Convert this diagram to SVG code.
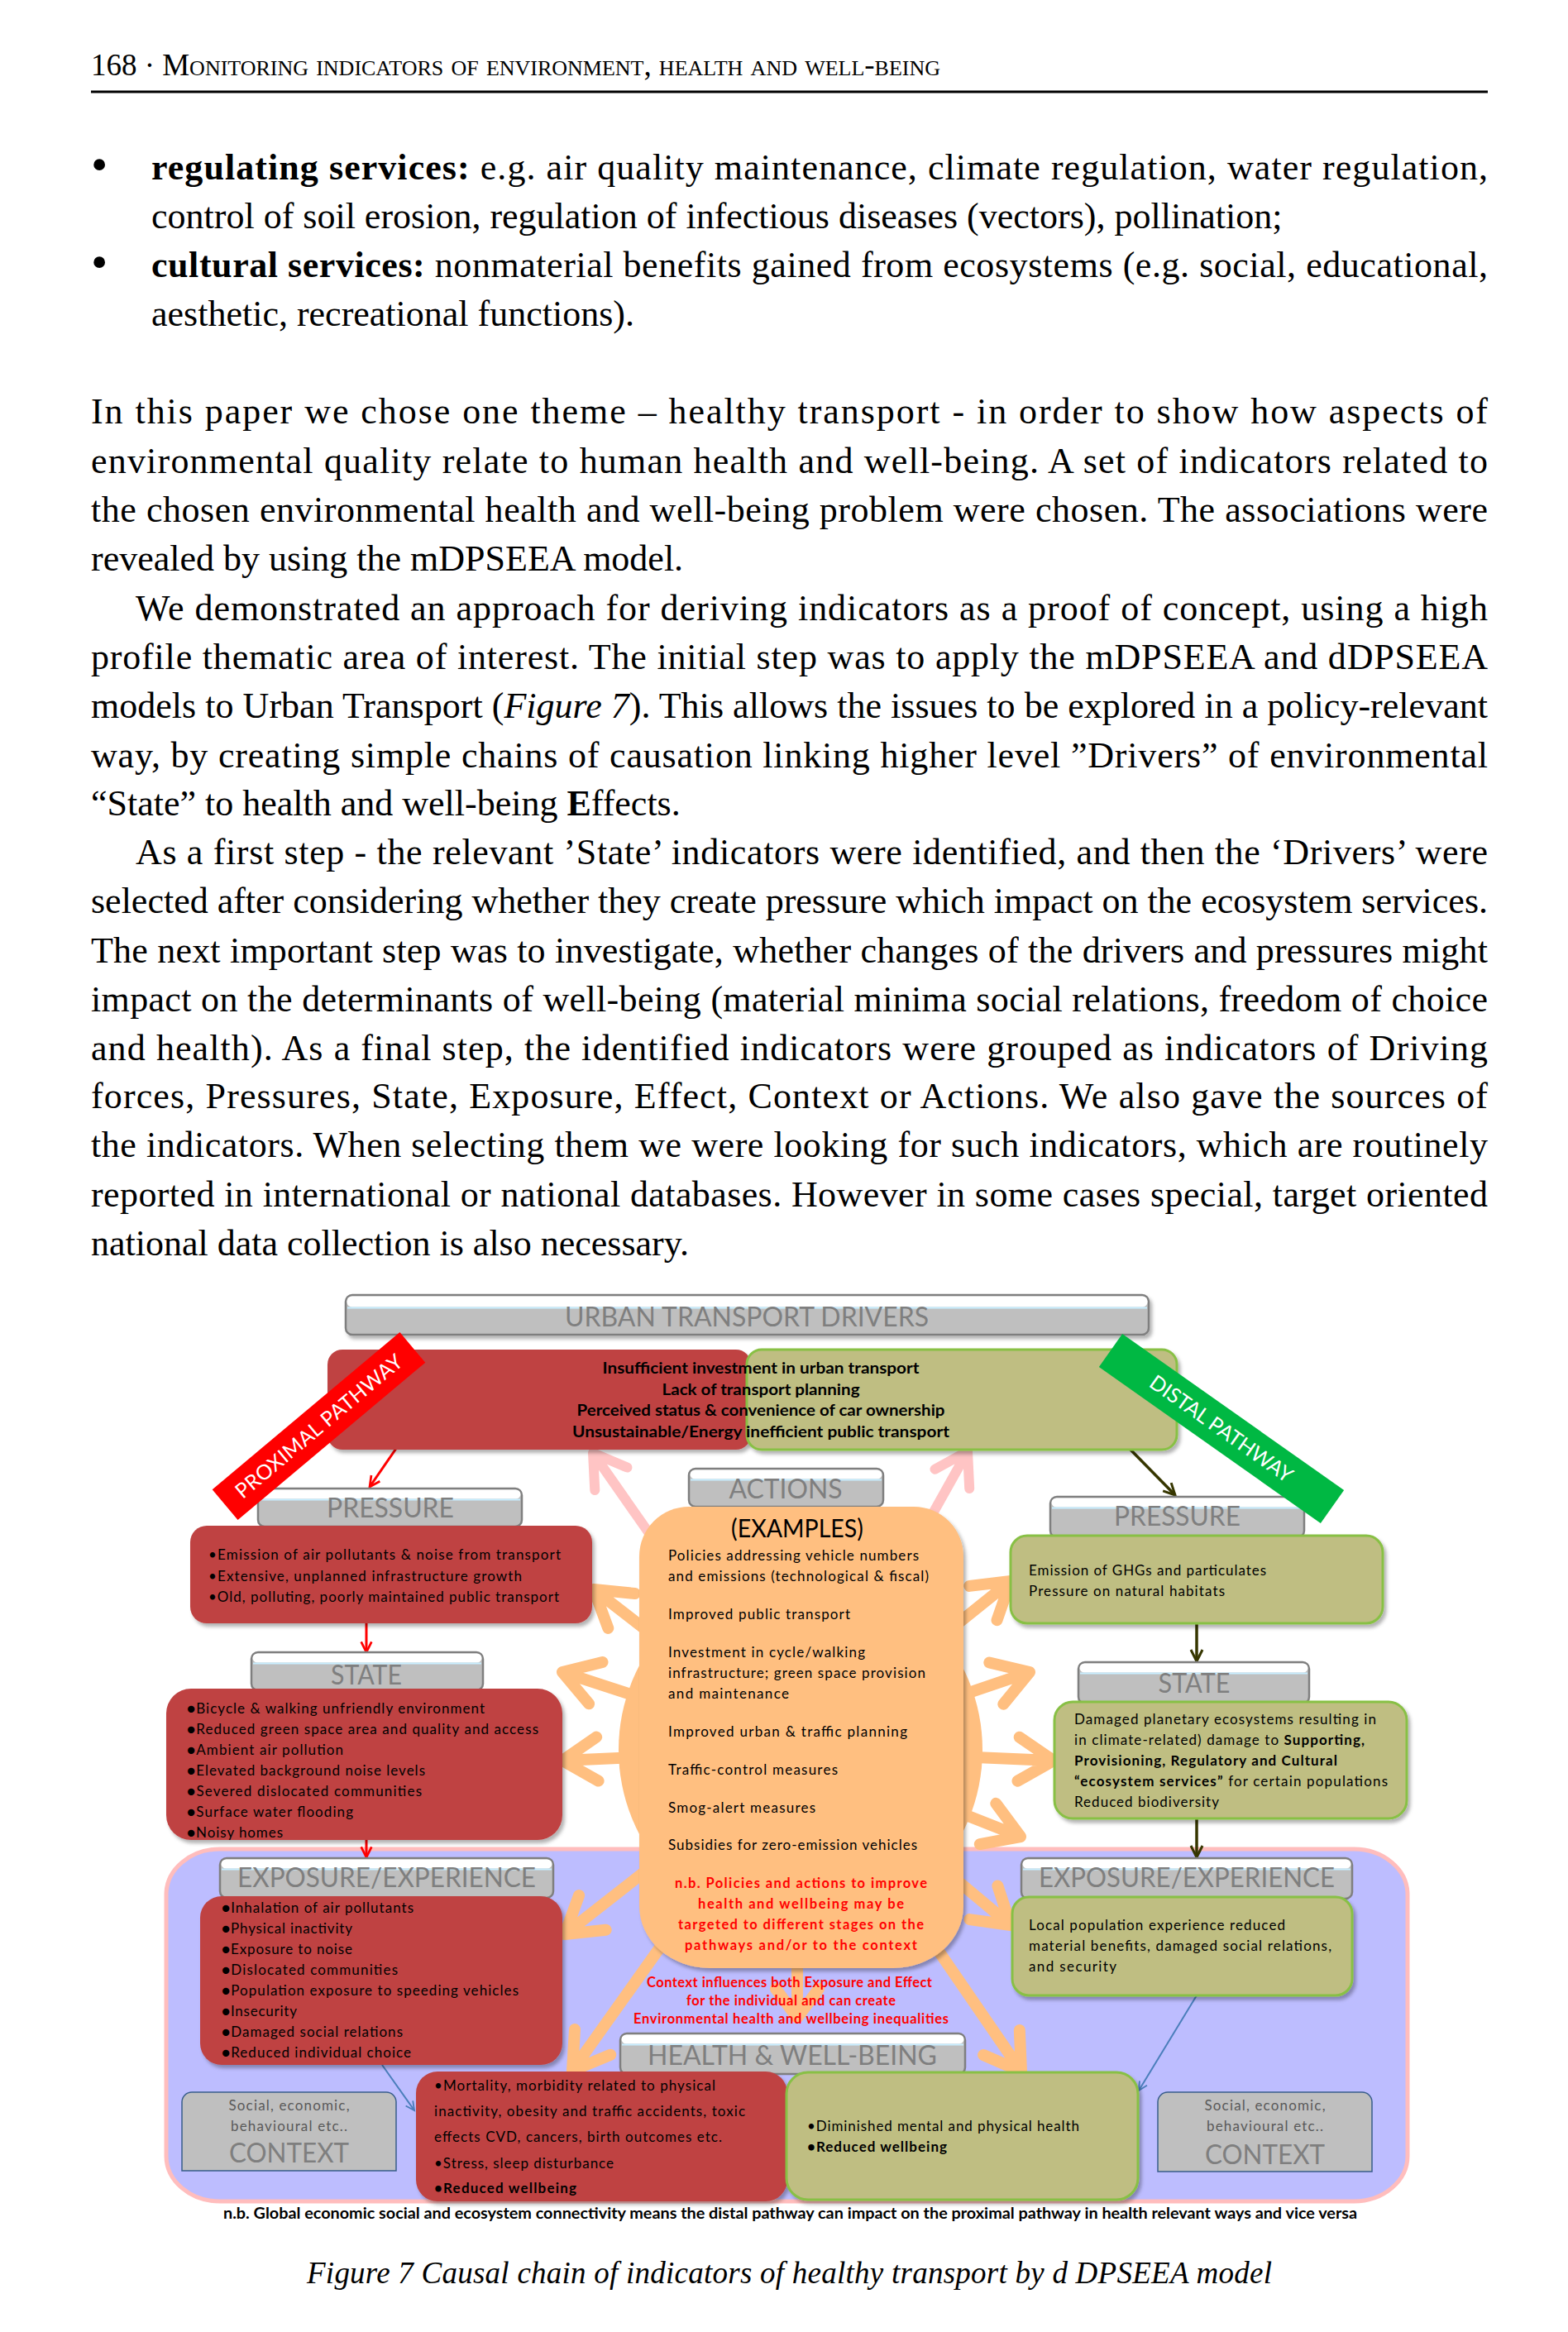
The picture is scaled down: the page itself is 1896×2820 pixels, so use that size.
<svg xmlns="http://www.w3.org/2000/svg" width="1896" height="2820" viewBox="0 0 1896 2820">
<defs>
<style>
.serif{font-family:'Liberation Serif','Times New Roman',serif;fill:#000;font-size:44px}
.tabbg{fill:#BFBFBF;stroke:#7F7F7F;stroke-width:2.5}
.tabhi{fill:#FFFFFF}
.tabln{stroke:#C8EEFF;stroke-width:2}
.tabtx{font-family:Lato,'Liberation Sans',sans-serif;font-size:33px;fill:#7F7F7F;text-anchor:middle}
.redbox{fill:#BF4343}
.grnbox{fill:#BFBE82;stroke:#88C045;stroke-width:3}
.tx{font-family:Lato,'Liberation Sans',sans-serif;font-size:17px;fill:#000}
.drv{font-family:Lato,'Liberation Sans',sans-serif;font-size:18.5px;font-weight:bold;fill:#000;text-anchor:middle}
.bold{font-weight:bold}
.mid{text-anchor:middle}
.rtx{font-family:Lato,'Liberation Sans',sans-serif;font-size:16.5px;font-weight:bold;fill:#FF0000;text-anchor:middle}
.orange{fill:none;stroke:#FFBF80;stroke-width:14;stroke-linecap:round;stroke-linejoin:round}
.pink{fill:none;stroke:#FFC4C4;stroke-width:12;stroke-linecap:round;stroke-linejoin:round}
.ctx{fill:#BFBFBF;stroke:#385D8A;stroke-width:1.5}
.ctxs{font-family:Lato,'Liberation Sans',sans-serif;font-size:17px;fill:#595959;text-anchor:middle}
.ctxb{font-family:Lato,'Liberation Sans',sans-serif;font-size:33px;fill:#7F7F7F;text-anchor:middle}
.band{font-family:Lato,'Liberation Sans',sans-serif;font-size:25px;fill:#FFFFFF;text-anchor:middle}
</style>
<filter id="sh" x="-10%" y="-10%" width="130%" height="130%"><feDropShadow dx="3" dy="4" stdDeviation="2" flood-color="#000" flood-opacity="0.3"/></filter>
<marker id="ar" viewBox="0 0 20 20" refX="17" refY="10" markerWidth="18" markerHeight="18" markerUnits="userSpaceOnUse" orient="auto"><path d="M3,3 L17,10 L3,17" fill="none" stroke="#FF0000" stroke-width="3"/></marker>
<marker id="ad" viewBox="0 0 20 20" refX="17" refY="10" markerWidth="20" markerHeight="20" markerUnits="userSpaceOnUse" orient="auto"><path d="M3,3 L17,10 L3,17" fill="none" stroke="#363600" stroke-width="3"/></marker>
<marker id="ab" viewBox="0 0 20 20" refX="17" refY="10" markerWidth="15" markerHeight="15" markerUnits="userSpaceOnUse" orient="auto"><path d="M3,3 L17,10 L3,17" fill="none" stroke="#4A7EBB" stroke-width="2.5"/></marker>
</defs>
<rect width="1896" height="2820" fill="#FFFFFF"/>

<g id="page-text" class="serif">
<text x="110" y="91" style="font-size:37px;font-variant:small-caps" textLength="1027" lengthAdjust="spacing">168 · Monitoring indicators of environment, health and well-being</text>
<line x1="110" y1="111" x2="1799" y2="111" stroke="#000" stroke-width="3"/>
<text x="110" y="218" style="font-size:58px">•</text>
<text x="183" y="217" textLength="1616" lengthAdjust="spacing"><tspan font-weight="bold">regulating services:</tspan> e.g. air quality maintenance, climate regulation, water regulation,</text>
<text x="183" y="276">control of soil erosion, regulation of infectious diseases (vectors), pollination;</text>
<text x="110" y="336" style="font-size:58px">•</text>
<text x="183" y="335" textLength="1616" lengthAdjust="spacing"><tspan font-weight="bold">cultural services:</tspan> nonmaterial benefits gained from ecosystems (e.g. social, educational,</text>
<text x="183" y="394">aesthetic, recreational functions).</text>

<text x="110" y="512" textLength="1689" lengthAdjust="spacing">In this paper we chose one theme – healthy transport - in order to show how aspects of</text>
<text x="110" y="571.5" textLength="1689" lengthAdjust="spacing">environmental quality relate to human health and well-being.  A set of indicators related to</text>
<text x="110" y="631" textLength="1689" lengthAdjust="spacing">the chosen environmental health and well-being problem were chosen. The associations were</text>
<text x="110" y="690">revealed by using the mDPSEEA model.</text>
<text x="164" y="749.5" textLength="1635" lengthAdjust="spacing">We demonstrated an approach for deriving indicators as a proof of concept, using a high</text>
<text x="110" y="809" textLength="1689" lengthAdjust="spacing">profile thematic area of interest. The initial step was to apply the mDPSEEA  and dDPSEEA</text>
<text x="110" y="868" textLength="1689" lengthAdjust="spacing">models to Urban Transport (<tspan font-style="italic">Figure 7</tspan>). This allows the issues to be explored in a policy-relevant</text>
<text x="110" y="927.5" textLength="1689" lengthAdjust="spacing">way, by creating simple chains of causation linking higher level ”Drivers” of environmental</text>
<text x="110" y="985.5">“State” to health and well-being <tspan font-weight="bold">E</tspan>ffects.</text>
<text x="164" y="1044.5" textLength="1635" lengthAdjust="spacing">As a first step - the relevant ’State’ indicators were identified, and then the ‘Drivers’ were</text>
<text x="110" y="1104" textLength="1689" lengthAdjust="spacing">selected after considering whether they create pressure which impact on the ecosystem services.</text>
<text x="110" y="1163.5" textLength="1689" lengthAdjust="spacing">The next important step was to investigate, whether changes of the drivers and pressures might</text>
<text x="110" y="1222.5" textLength="1689" lengthAdjust="spacing">impact on the determinants of well-being (material minima social relations, freedom of choice</text>
<text x="110" y="1282" textLength="1689" lengthAdjust="spacing">and health). As a final step, the identified indicators were grouped as indicators of Driving</text>
<text x="110" y="1340" textLength="1689" lengthAdjust="spacing">forces, Pressures, State, Exposure, Effect, Context or Actions. We also gave the sources of</text>
<text x="110" y="1399" textLength="1689" lengthAdjust="spacing">the indicators. When selecting them we were looking for such indicators, which are routinely</text>
<text x="110" y="1458.5" textLength="1689" lengthAdjust="spacing">reported in international or national databases. However in some cases special, target oriented</text>
<text x="110" y="1518">national data collection is also necessary.</text>
</g>

<g id="container">
<rect x="201" y="2236" width="1501" height="426" rx="65" ry="55" fill="#BDBDFF" stroke="#FFBDBD" stroke-width="5"/>
</g>

<g id="connectors">
<path class="pink" d="M968,2116 L717,1757 M719.3,1802 L717,1757 L758.4,1774.6"/>
<path class="pink" d="M968,2116 L1170,1755 M1130.5,1776.7 L1170,1755 L1172.2,1800"/>
<path class="orange" d="M968,2116 L718,1922 M735.3,1968.9 L718,1922 L767.7,1927"/>
<path class="orange" d="M968,2116 L680,2022 M712.1,2060.3 L680,2022 L728.5,2010"/>
<path class="orange" d="M968,2116 L680,2129 M723.6,2153.6 L680,2129 L721.2,2100.6"/>
<path class="orange" d="M968,2116 L683,2339 M732.7,2333.7 L683,2339 L700.1,2292"/>
<path class="orange" d="M968,2116 L692,2504 M738.2,2484.8 L692,2504 L695,2454.1"/>
<path class="orange" d="M964,2116 L964,2440 M990,2405 L964,2440 L938,2405"/>
<path class="orange" d="M968,2116 L1235,2505 M1232.8,2455 L1235,2505 L1189.1,2485"/>
<path class="orange" d="M968,2116 L1222,2328 M1206.4,2280.5 L1222,2328 L1172.4,2321.1"/>
<path class="orange" d="M968,2116 L1234,2221 M1204.3,2180.8 L1234,2221 L1184.8,2230.1"/>
<path class="orange" d="M968,2116 L1274,2129 M1232.7,2100.7 L1274,2129 L1230.5,2153.7"/>
<path class="orange" d="M968,2116 L1245,2022 M1196.3,2010.5 L1245,2022 L1213.3,2060.7"/>
<path class="orange" d="M968,2116 L1222,1912 M1172.3,1917.9 L1222,1912 L1205.5,1959.2"/>
<line x1="487" y1="1740" x2="447" y2="1798" stroke="#FF0000" stroke-width="3" marker-end="url(#ar)"/>
<line x1="443" y1="1963" x2="443" y2="1998" stroke="#FF0000" stroke-width="3" marker-end="url(#ar)"/>
<line x1="443" y1="2225" x2="443" y2="2246" stroke="#FF0000" stroke-width="3" marker-end="url(#ar)"/>
<line x1="1366" y1="1752" x2="1421" y2="1808" stroke="#363600" stroke-width="3.5" marker-end="url(#ad)"/>
<line x1="1447" y1="1963" x2="1447" y2="2009" stroke="#363600" stroke-width="3.5" marker-end="url(#ad)"/>
<line x1="1447" y1="2199" x2="1447" y2="2246" stroke="#363600" stroke-width="3.5" marker-end="url(#ad)"/>
<line x1="462" y1="2497" x2="501" y2="2552" stroke="#4A7EBB" stroke-width="2" marker-end="url(#ab)"/>
<line x1="1447" y1="2413" x2="1377" y2="2528" stroke="#4A7EBB" stroke-width="2" marker-end="url(#ab)"/>
</g>

<g id="drivers">
<rect class="tabbg" x="418" y="1566" width="971" height="48" rx="8" filter="url(#sh)"/>
<rect class="tabhi" x="419.5" y="1567.5" width="968" height="13" rx="6"/>
<line class="tabln" x1="420" y1="1581.5" x2="1387" y2="1581.5"/>
<text class="tabtx" x="903" y="1604" textLength="440" lengthAdjust="spacingAndGlyphs">URBAN TRANSPORT DRIVERS</text>
<rect class="redbox" x="396" y="1632" width="512" height="121" rx="18" filter="url(#sh)"/>
<rect class="grnbox" x="903" y="1632" width="520" height="121" rx="18" filter="url(#sh)"/>
<text class="drv" x="920" y="1661" textLength="383" lengthAdjust="spacingAndGlyphs">Insufficient investment in urban transport</text>
<text class="drv" x="920" y="1687" textLength="239" lengthAdjust="spacingAndGlyphs">Lack of transport planning</text>
<text class="drv" x="920" y="1712" textLength="445" lengthAdjust="spacingAndGlyphs">Perceived status &amp; convenience of car ownership</text>
<text class="drv" x="920" y="1738" textLength="456" lengthAdjust="spacingAndGlyphs">Unsustainable/Energy inefficient  public transport</text>
</g>

<g id="actions">
<circle cx="968" cy="2116" r="220" fill="#FFBF80"/>
<rect class="tabbg" x="833" y="1776" width="235" height="46" rx="8"/>
<rect class="tabhi" x="834.5" y="1777.5" width="232" height="11" rx="6"/>
<line class="tabln" x1="835" y1="1789.5" x2="1066" y2="1789.5"/>
<text class="tabtx" x="950" y="1812" textLength="137" lengthAdjust="spacingAndGlyphs">ACTIONS</text>
<path d="M833,1822 H1105 A60,60 0 0 1 1165,1882 V2305 A85,75 0 0 1 1080,2380 H858 A85,75 0 0 1 773,2305 V1882 A60,60 0 0 1 833,1822 Z" fill="#FFBF80" filter="url(#sh)"/>
<text class="tx mid" x="964" y="1859" style="font-size:30px" textLength="160" lengthAdjust="spacingAndGlyphs">(EXAMPLES)</text>
<text class="tx" x="808" y="1887" textLength="303">Policies addressing vehicle numbers</text>
<text class="tx" x="808" y="1912" textLength="315">and emissions (technological &amp; fiscal)</text>
<text class="tx" x="808" y="1958" textLength="220">Improved public transport</text>
<text class="tx" x="808" y="2004" textLength="238">Investment in cycle/walking</text>
<text class="tx" x="808" y="2029" textLength="311">infrastructure; green  space provision</text>
<text class="tx" x="808" y="2054" textLength="146">and maintenance</text>
<text class="tx" x="808" y="2100" textLength="289">Improved urban &amp; traffic planning</text>
<text class="tx" x="808" y="2146" textLength="205">Traffic-control measures</text>
<text class="tx" x="808" y="2192" textLength="178">Smog-alert measures</text>
<text class="tx" x="808" y="2237" textLength="301">Subsidies for zero-emission  vehicles</text>
<text class="rtx" x="968.5" y="2283" textLength="305">n.b. Policies and actions to improve</text>
<text class="rtx" x="968.5" y="2308" textLength="249">health and wellbeing may be</text>
<text class="rtx" x="968.5" y="2333" textLength="297">targeted to different stages on the</text>
<text class="rtx" x="968.5" y="2358" textLength="281">pathways and/or to  the context</text>
</g>

<g id="context-note">
<text class="rtx" x="954.5" y="2403" textLength="345">Context influences both Exposure and Effect</text>
<text class="rtx" x="956.5" y="2425" textLength="253">for the individual and can create</text>
<text class="rtx" x="956.5" y="2447" textLength="381">Environmental health and  wellbeing inequalities</text>
</g>

<g id="pressure-left">
<rect class="tabbg" x="312" y="1800" width="319" height="46" rx="8"/>
<rect class="tabhi" x="313.5" y="1801.5" width="316" height="11" rx="6"/>
<line class="tabln" x1="314" y1="1813.5" x2="629" y2="1813.5"/>
<text class="tabtx" x="472" y="1835" textLength="154" lengthAdjust="spacingAndGlyphs">PRESSURE</text>
<rect class="redbox" x="230" y="1845" width="486" height="118" rx="20" filter="url(#sh)"/>
<text class="tx" x="252" y="1886" textLength="426">•Emission of  air  pollutants &amp; noise from transport</text>
<text class="tx" x="252" y="1912" textLength="379">•Extensive,  unplanned infrastructure growth</text>
<text class="tx" x="252" y="1937" textLength="424">•Old, polluting, poorly maintained public transport</text>
</g>

<g id="state-left">
<rect class="tabbg" x="304" y="1998" width="280" height="46" rx="8"/>
<rect class="tabhi" x="305.5" y="1999.5" width="277" height="11" rx="6"/>
<line class="tabln" x1="306" y1="2011.5" x2="582" y2="2011.5"/>
<text class="tabtx" x="443" y="2037" textLength="86" lengthAdjust="spacingAndGlyphs">STATE</text>
<rect class="redbox" x="201" y="2042" width="479" height="183" rx="30" filter="url(#sh)"/>
<text class="tx" x="226" y="2072" textLength="360">●Bicycle &amp; walking unfriendly environment</text>
<text class="tx" x="226" y="2097" textLength="425">●Reduced green  space area and quality and access</text>
<text class="tx" x="226" y="2122" textLength="189">●Ambient air pollution</text>
<text class="tx" x="226" y="2147" textLength="288">●Elevated  background noise levels</text>
<text class="tx" x="226" y="2172" textLength="284">●Severed  dislocated communities</text>
<text class="tx" x="226" y="2197" textLength="201">●Surface water flooding</text>
<text class="tx" x="226" y="2222" textLength="116">●Noisy homes</text>
</g>

<g id="exposure-left">
<rect class="tabbg" x="266" y="2247" width="403" height="48" rx="8"/>
<rect class="tabhi" x="267.5" y="2248.5" width="400" height="11" rx="6"/>
<line class="tabln" x1="268" y1="2260.5" x2="667" y2="2260.5"/>
<text class="tabtx" x="467.5" y="2282" textLength="361" lengthAdjust="spacingAndGlyphs">EXPOSURE/EXPERIENCE</text>
<rect class="redbox" x="242" y="2293" width="438" height="204" rx="26" filter="url(#sh)"/>
<text class="tx" x="268" y="2313" textLength="232">●Inhalation of air pollutants</text>
<text class="tx" x="268" y="2338" textLength="158">●Physical inactivity</text>
<text class="tx" x="268" y="2363" textLength="158">●Exposure to noise</text>
<text class="tx" x="268" y="2388" textLength="213">●Dislocated communities</text>
<text class="tx" x="268" y="2413" textLength="359">●Population exposure to speeding vehicles</text>
<text class="tx" x="268" y="2438" textLength="91">●Insecurity</text>
<text class="tx" x="268" y="2463" textLength="219">●Damaged social relations</text>
<text class="tx" x="268" y="2488" textLength="229">●Reduced individual choice</text>
</g>

<g id="context-left">
<path class="ctx" d="M220,2542 A12,12 0 0 1 232,2530 H467 A12,12 0 0 1 479,2542 V2625 H220 Z"/>
<text class="ctxs" x="349.5" y="2552" textLength="146">Social, economic,</text>
<text class="ctxs" x="349.5" y="2577" textLength="141">behavioural etc..</text>
<text class="ctxb" x="349.5" y="2615" textLength="145" lengthAdjust="spacingAndGlyphs">CONTEXT</text>
</g>

<g id="health">
<rect class="tabbg" x="750" y="2459" width="417" height="49" rx="8"/>
<rect class="tabhi" x="751.5" y="2460.5" width="414" height="11" rx="6"/>
<line class="tabln" x1="752" y1="2472.5" x2="1165" y2="2472.5"/>
<text class="tabtx" x="958" y="2497" textLength="350" lengthAdjust="spacingAndGlyphs">HEALTH &amp; WELL-BEING</text>
<rect class="redbox" x="503" y="2505" width="449" height="157" rx="26" filter="url(#sh)"/>
<text class="tx" x="525" y="2528" textLength="340">•Mortality, morbidity related to physical</text>
<text class="tx" x="525" y="2559" textLength="376">inactivity, obesity and traffic accidents, toxic</text>
<text class="tx" x="525" y="2590" textLength="348">effects CVD, cancers, birth outcomes etc.</text>
<text class="tx" x="525" y="2622" textLength="217">•Stress, sleep disturbance</text>
<text class="tx bold" x="525" y="2652" textLength="172">•Reduced wellbeing</text>
<rect class="grnbox" x="951" y="2506" width="425" height="154" rx="26" filter="url(#sh)"/>
<text class="tx" x="976" y="2577" textLength="329">•Diminished mental and physical health</text>
<text class="tx bold" x="976" y="2602" textLength="169">•Reduced wellbeing</text>
</g>

<g id="pressure-right">
<rect class="tabbg" x="1270" y="1810" width="307" height="49" rx="8"/>
<rect class="tabhi" x="1271.5" y="1811.5" width="304" height="11" rx="6"/>
<line class="tabln" x1="1272" y1="1823.5" x2="1575" y2="1823.5"/>
<text class="tabtx" x="1423.5" y="1845" textLength="153" lengthAdjust="spacingAndGlyphs">PRESSURE</text>
<rect class="grnbox" x="1222" y="1857" width="450" height="106" rx="20" filter="url(#sh)"/>
<text class="tx" x="1244" y="1905" textLength="287">Emission of GHGs and particulates</text>
<text class="tx" x="1244" y="1930" textLength="237">Pressure  on natural habitats</text>
</g>

<g id="state-right">
<rect class="tabbg" x="1304" y="2010" width="279" height="50" rx="8"/>
<rect class="tabhi" x="1305.5" y="2011.5" width="276" height="11" rx="6"/>
<line class="tabln" x1="1306" y1="2023.5" x2="1581" y2="2023.5"/>
<text class="tabtx" x="1444" y="2047" textLength="87" lengthAdjust="spacingAndGlyphs">STATE</text>
<rect class="grnbox" x="1275" y="2058" width="426" height="141" rx="22" filter="url(#sh)"/>
<text class="tx" x="1299" y="2085" textLength="365">Damaged planetary ecosystems resulting in</text>
<text class="tx" x="1299" y="2110" textLength="351">in climate-related) damage to <tspan font-weight="bold">Supporting,</tspan></text>
<text class="tx bold" x="1299" y="2135" textLength="318">Provisioning,  Regulatory and Cultural</text>
<text class="tx" x="1299" y="2160" textLength="379"><tspan font-weight="bold">“ecosystem services”</tspan> for certain populations</text>
<text class="tx" x="1299" y="2185" textLength="175">Reduced biodiversity</text>
</g>

<g id="exposure-right">
<rect class="tabbg" x="1235" y="2247" width="400" height="49" rx="8"/>
<rect class="tabhi" x="1236.5" y="2248.5" width="397" height="11" rx="6"/>
<line class="tabln" x1="1237" y1="2260.5" x2="1633" y2="2260.5"/>
<text class="tabtx" x="1435" y="2282" textLength="358" lengthAdjust="spacingAndGlyphs">EXPOSURE/EXPERIENCE</text>
<rect class="grnbox" x="1224" y="2294" width="411" height="119" rx="20" filter="url(#sh)"/>
<text class="tx" x="1244" y="2334" textLength="310">Local population experience reduced</text>
<text class="tx" x="1244" y="2359" textLength="366">material benefits, damaged social relations,</text>
<text class="tx" x="1244" y="2384" textLength="106">and  security</text>
</g>

<g id="context-right">
<path class="ctx" d="M1400,2542 A12,12 0 0 1 1412,2530 H1647 A12,12 0 0 1 1659,2542 V2626 H1400 Z"/>
<text class="ctxs" x="1529.5" y="2552" textLength="146">Social, economic,</text>
<text class="ctxs" x="1529.5" y="2577" textLength="141">behavioural etc..</text>
<text class="ctxb" x="1529.5" y="2617" textLength="145" lengthAdjust="spacingAndGlyphs">CONTEXT</text>
</g>

<g id="proximal-pathway" transform="translate(385.5,1724.5) rotate(-40)">
<rect x="-148" y="-24" width="296" height="48" fill="#FF0000"/>
<text class="band" x="0" y="9" textLength="255">PROXIMAL PATHWAY</text>
</g>

<g id="distal-pathway" transform="translate(1477,1727.5) rotate(35.2)">
<rect x="-164" y="-24.5" width="328" height="49" fill="#00B843"/>
<text class="band" x="0" y="9" textLength="205">DISTAL PATHWAY</text>
</g>

<g id="footnote">
<text class="tx bold" x="270" y="2683" style="font-size:19px" textLength="1371" lengthAdjust="spacingAndGlyphs">n.b. Global economic social and ecosystem connectivity means the distal pathway can impact on the proximal pathway  in health relevant ways  and vice versa</text>
</g>

<g id="caption">
<text x="371" y="2761" style="font-family:'Liberation Serif','Times New Roman',serif;font-size:37px;font-style:italic;fill:#000" textLength="1167" lengthAdjust="spacing">Figure 7  Causal chain of indicators of healthy transport by d DPSEEA model</text>
</g>
</svg>
